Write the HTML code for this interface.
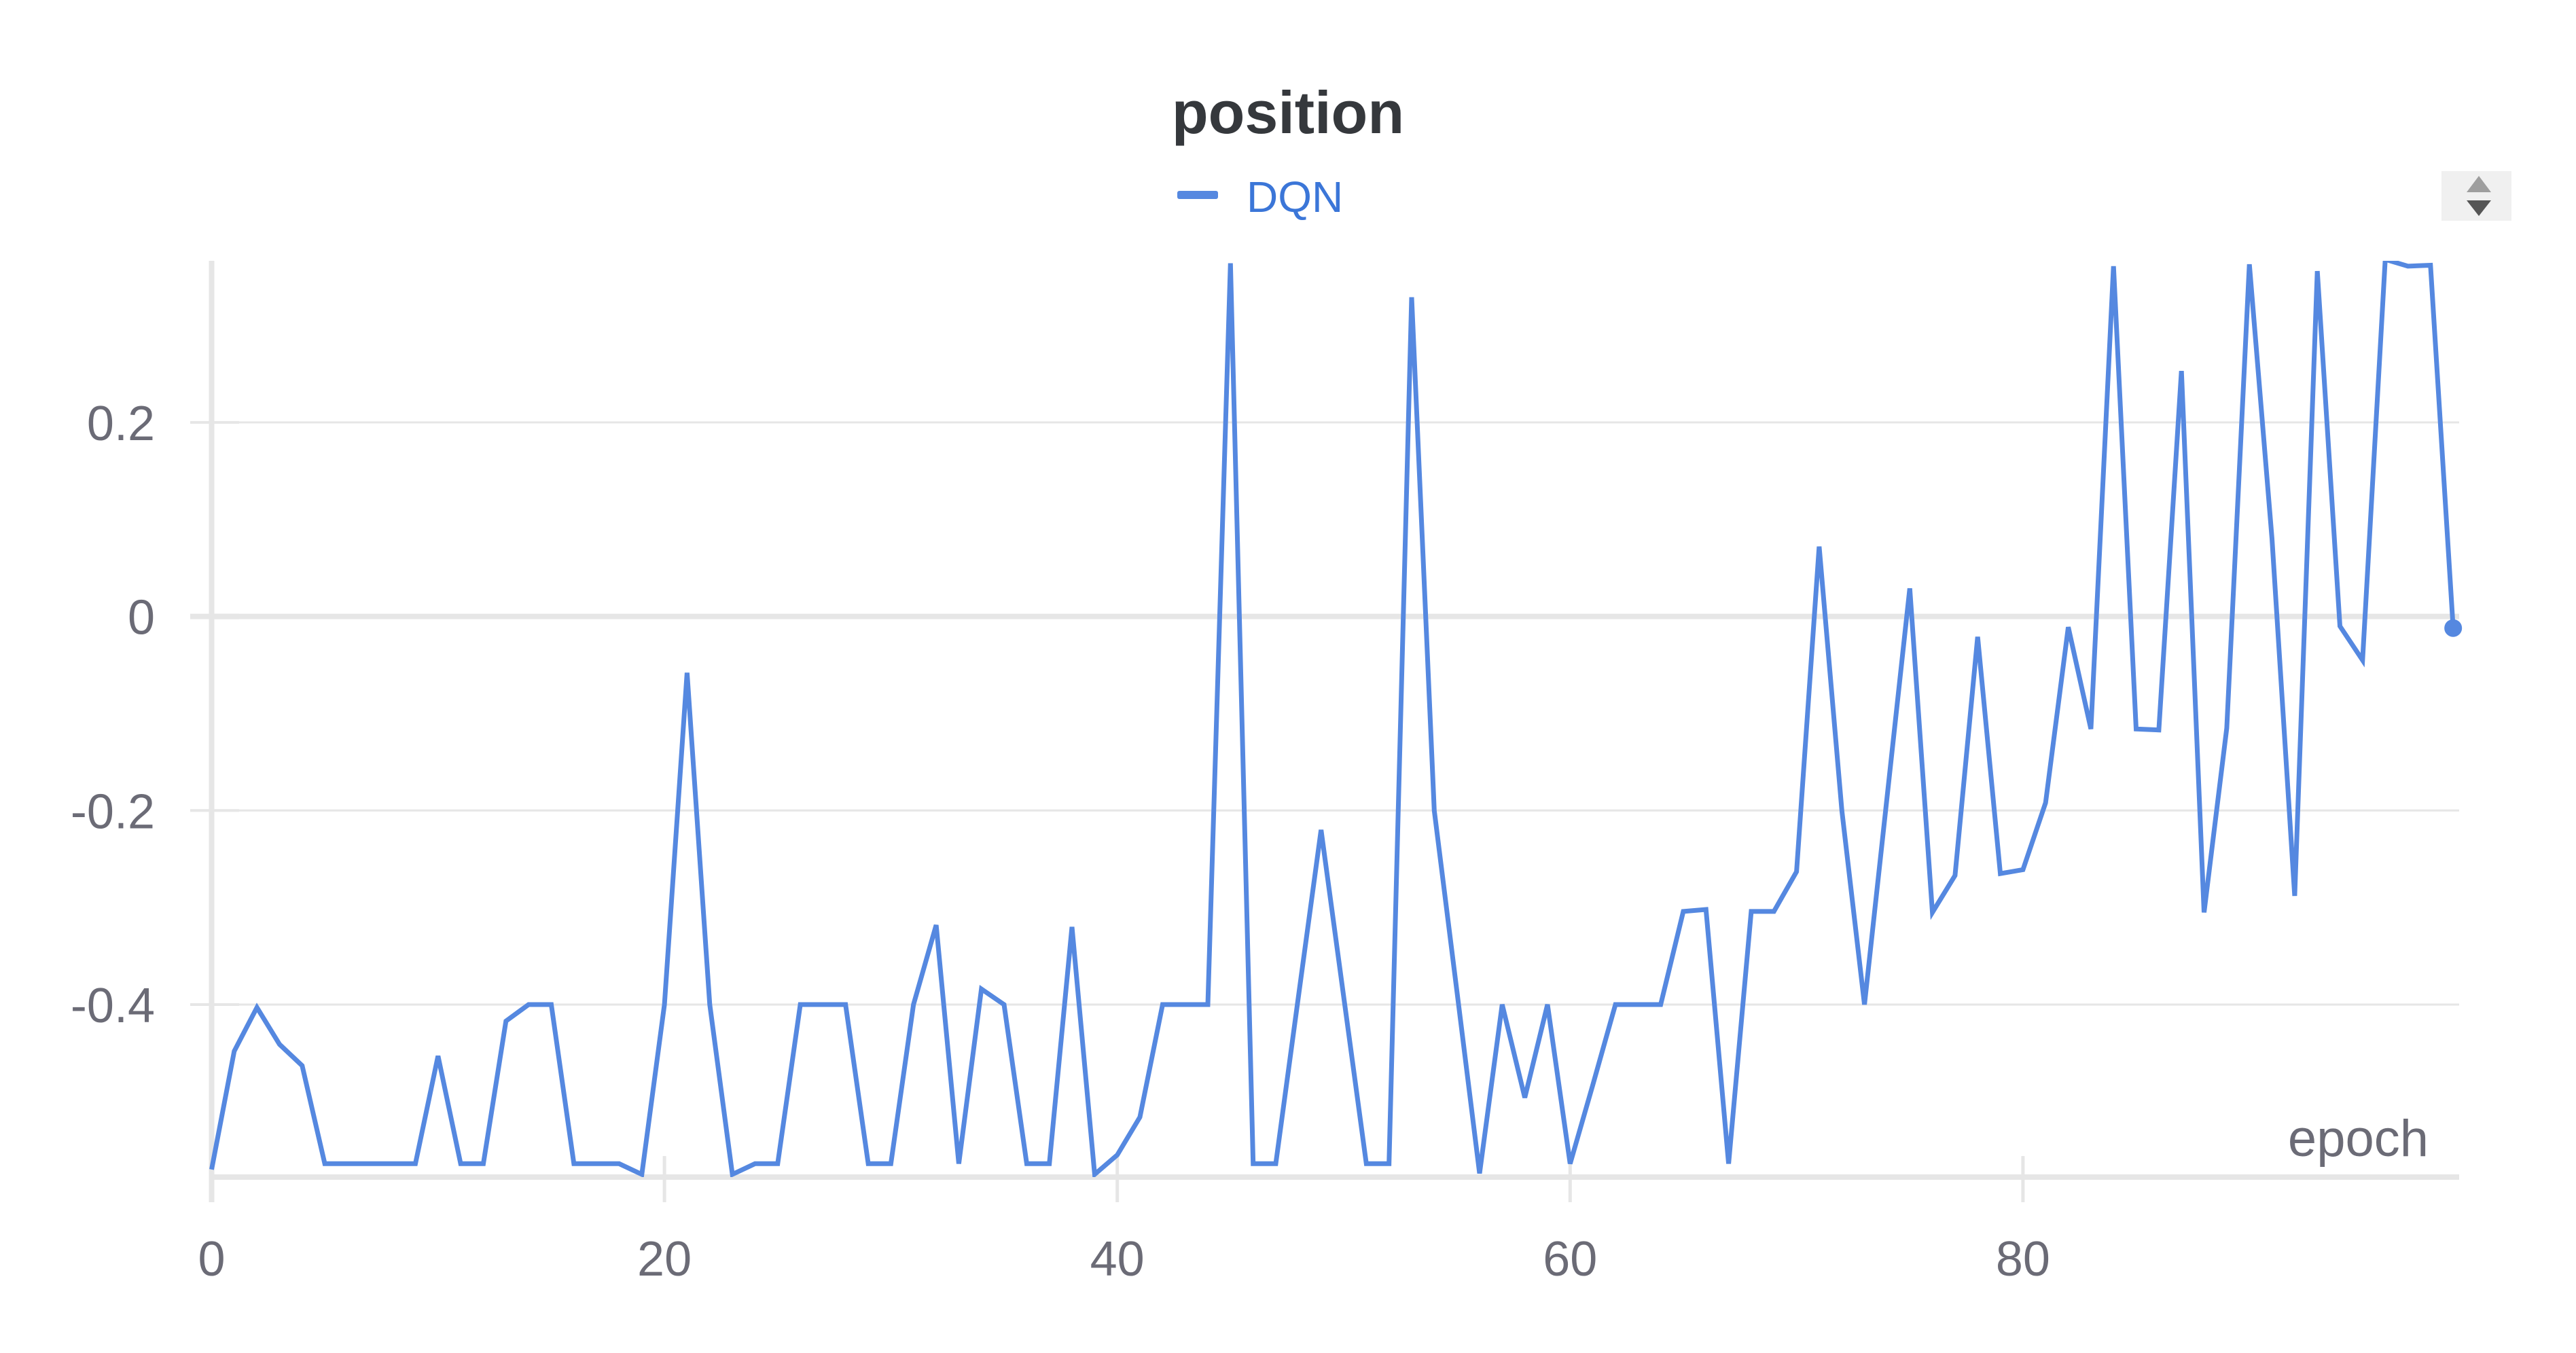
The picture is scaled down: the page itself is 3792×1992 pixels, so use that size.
<!DOCTYPE html>
<html><head><meta charset="utf-8"><style>
html,body{margin:0;padding:0;background:#fff;}
svg{display:block;font-family:"Liberation Sans",sans-serif;}
</style></head><body>
<svg id="chart" width="3792" height="1992" viewBox="0 0 3792 1992" xmlns="http://www.w3.org/2000/svg">
<text x="1896" y="196" text-anchor="middle" font-size="88" font-weight="bold" fill="#35383c">position</text>
<g>
<rect x="1733" y="281" width="60" height="12" rx="3" fill="#5588e0"/>
<text x="1835" y="312" font-size="64" fill="#3b76d8">DQN</text>
</g>
<g>
<rect x="3594" y="252" width="103" height="73" fill="#f0f0f0"/>
<polygon points="3631,283 3667,283 3649,259" fill="#9e9e9e"/>
<polygon points="3631,295 3667,295 3649,318" fill="#555"/>
</g>
<g id="grid"></g>
<g id="axes"></g>
<g id="series"></g>
<text x="3575" y="1702" text-anchor="end" font-size="76" fill="#6b6b76">epoch</text>
</svg>
<script>
const epochs = [];
for (let i = 0; i < 100; i++) epochs.push(i);
const dqnValues = [-0.57,-0.448,-0.403,-0.441,-0.463,-0.564,-0.564,-0.564,-0.564,-0.564,
-0.453,-0.564,-0.564,-0.417,-0.40,-0.40,-0.564,-0.564,-0.564,-0.575,
-0.40,-0.058,-0.40,-0.575,-0.564,-0.564,-0.40,-0.40,-0.40,-0.564,
-0.564,-0.40,-0.318,-0.564,-0.384,-0.40,-0.564,-0.564,-0.32,-0.575,
-0.555,-0.516,-0.40,-0.40,-0.40,0.364,-0.564,-0.564,-0.392,-0.22,
-0.392,-0.564,-0.564,0.329,-0.20,-0.386,-0.574,-0.40,-0.496,-0.40,
-0.564,-0.483,-0.40,-0.40,-0.40,-0.304,-0.302,-0.564,-0.304,-0.304,
-0.263,0.072,-0.20,-0.40,-0.186,0.029,-0.305,-0.267,-0.021,-0.265,
-0.261,-0.192,-0.011,-0.116,0.361,-0.116,-0.117,0.253,-0.305,-0.115,
0.363,0.08,-0.288,0.356,-0.010,-0.045,0.368,0.361,0.362,-0.012];
const yTicks = [-0.4,-0.2,0,0.2];
const yTickLabels = ["-0.4","-0.2","0","0.2"];
const xTicks = [0,20,40,60,80];
const xTickLabels = ["0","20","40","60","80"];

const NS = "http://www.w3.org/2000/svg";
const X0 = 311.5, PX_PER_EPOCH = 33.33;
const Y0 = 907.6, PX_PER_UNIT = 1428.5;
const TOP = 384, BOTTOM = 1733, RIGHT = 3620;
function xs(v){ return X0 + v * PX_PER_EPOCH; }
function ys(v){ return Y0 - v * PX_PER_UNIT; }
function mk(tag, attrs, parent){ const e=document.createElementNS(NS,tag); for(const k in attrs) e.setAttribute(k,attrs[k]); parent.appendChild(e); return e; }

const grid = document.getElementById('grid');
const axes = document.getElementById('axes');
const series = document.getElementById('series');

yTicks.forEach((t,i)=>{
  const y = ys(t);
  const gl = mk('line',{x1:X0,x2:RIGHT,y1:y,y2:y,stroke:'#e6e6e6','stroke-width': t===0?8:3},grid);
  
  
  const tk = mk('line',{x1:280,x2:352,y1:y,y2:y,stroke:'#e6e6e6','stroke-width':t===0?8:4},axes);
  
  
  const lb = mk('text',{x:228,y:y+26,'text-anchor':'end','font-size':72,fill:'#6b6b76'},axes);
  
  
  lb.textContent = yTickLabels[i];
});
const ya = mk('line',{x1:X0,x2:X0,y1:TOP,y2:1770,stroke:'#e6e6e6','stroke-width':8},axes);


const xa = mk('line',{x1:X0-4,x2:RIGHT,y1:BOTTOM,y2:BOTTOM,stroke:'#e6e6e6','stroke-width':8},axes);


xTicks.forEach((t,i)=>{
  const x = xs(t);
  const tk = mk('line',{x1:x,x2:x,y1:1702,y2:1770,stroke:'#e6e6e6','stroke-width':5},axes);
  
  
  const lb = mk('text',{x:x,y:1878,'text-anchor':'middle','font-size':72,fill:'#6b6b76'},axes);
  
  
  lb.textContent = xTickLabels[i];
});

const defs = mk('defs',{},document.getElementById('chart'));
const cp = mk('clipPath',{id:'plotclip'},defs);
mk('rect',{x:X0-10,y:TOP,width:RIGHT-X0+30,height:BOTTOM-TOP},cp);
const pts = epochs.map((e,i)=>xs(e).toFixed(1)+','+ys(dqnValues[i]).toFixed(1)).join(' ');
const line = mk('polyline',{points:pts,fill:'none',stroke:'#5588e0','stroke-width':7,'stroke-linejoin':'miter','clip-path':'url(#plotclip)'},series);


const last = epochs.length-1;
const dot = mk('circle',{cx:xs(epochs[last]),cy:ys(dqnValues[last]),r:13,fill:'#5588e0'},series);


</script>
</body></html>
